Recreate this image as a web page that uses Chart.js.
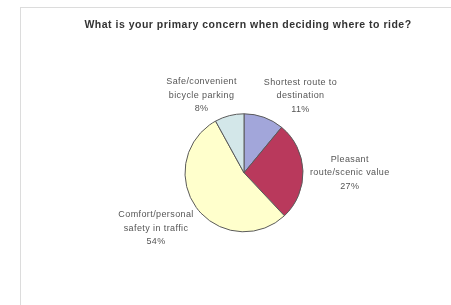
<!DOCTYPE html>
<html>
<head>
<meta charset="utf-8">
<script src="https://cdn.jsdelivr.net/npm/chart.js@4.4.1/dist/chart.umd.min.js"></script>
<style>
  html, body { margin: 0; padding: 0; background: #fff; }
  #wrap { position: relative; width: 451px; height: 305px; overflow: hidden; }
  #frame { position: absolute; left: 20px; top: 7px; width: 460px; height: 320px;
           border-left: 1px solid #dcdcdc; border-top: 1px solid #dcdcdc; }
  canvas { position: absolute; left: 0; top: 0; }
</style>
</head>
<body>
<div id="wrap">
  <div id="frame"></div>
  <canvas id="c" width="451" height="305"></canvas>
</div>
<script>
const titleText = "What is your primary concern when deciding where to ride?";
const categories = [
  ["Shortest route to", "destination"],
  ["Pleasant", "route/scenic value"],
  ["Comfort/personal", "safety in traffic"],
  ["Safe/convenient", "bicycle parking"]
];
const values = [11, 27, 54, 8];
const sliceColors = ["#a2a6da", "#b9395c", "#ffffcc", "#d3e7e9"];

const labelNudge = [[20, 9], [-5, 3], [0, 2], [-16, 11]];

const pieLabels = {
  id: 'pieLabels',
  afterDatasetsDraw(chart) {
    const ctx = chart.ctx;
    const meta = chart.getDatasetMeta(0);
    ctx.save();
    ctx.font = '9px "Liberation Sans", Arial, sans-serif';
    try { ctx.letterSpacing = '0.4px'; } catch (e) {}
    ctx.fillStyle = '#555';
    ctx.textAlign = 'center';
    ctx.textBaseline = 'middle';
    const lh = 13.5;
    meta.data.forEach((arc, i) => {
      const p = arc.getProps(['x', 'y', 'startAngle', 'endAngle', 'outerRadius'], true);
      const mid = (p.startAngle + p.endAngle) / 2;
      const lines = categories[i].concat([values[i] + '%']);
      let w = 0;
      lines.forEach(l => { w = Math.max(w, ctx.measureText(l).width); });
      const h = lines.length * lh;
      const g = 12;
      const cx = p.x + (p.outerRadius + g) * Math.cos(mid) + (w / 2) * Math.cos(mid) + labelNudge[i][0];
      const cy = p.y + (p.outerRadius + g) * Math.sin(mid) + (h / 2) * Math.sin(mid) + labelNudge[i][1];
      lines.forEach((l, k) => {
        ctx.fillText(l, cx, cy - h / 2 + lh / 2 + k * lh);
      });
    });
    ctx.restore();
  }
};

// shift the title a few pixels right of the pie centre and widen its tracking
const titleSpacing = {
  id: 'titleSpacing',
  beforeDraw(chart) {
    chart.ctx.save();
    chart.ctx.translate(4, 0);
    try { chart.ctx.letterSpacing = '0.5px'; } catch (e) {}
  },
  beforeDatasetsDraw(chart) {
    chart.ctx.restore();
    try { chart.ctx.letterSpacing = '0px'; } catch (e) {}
  }
};

new Chart(document.getElementById('c'), {
  type: 'pie',
  data: {
    labels: categories.map(c => c.join(' ')),
    datasets: [{
      data: values,
      backgroundColor: sliceColors,
      borderColor: '#5a5a5a',
      borderWidth: 1,
      radius: 59
    }]
  },
  options: {
    responsive: false,
    animation: false,
    layout: { padding: { left: 37, right: 0, top: 0, bottom: 1 } },
    plugins: {
      legend: { display: false },
      tooltip: { enabled: false },
      title: {
        display: true,
        text: titleText,
        color: '#333',
        font: { family: '"Liberation Sans", Arial, sans-serif', size: 10.5, weight: 'bold' },
        padding: { top: 19, bottom: 10 }
      }
    }
  },
  plugins: [titleSpacing, pieLabels]
});
</script>
</body>
</html>
